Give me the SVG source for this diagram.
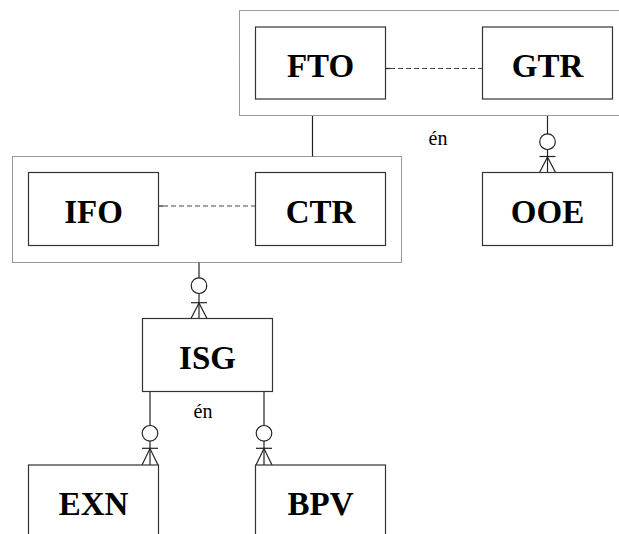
<svg xmlns="http://www.w3.org/2000/svg" width="619" height="534" viewBox="0 0 619 534">
<style>
.box{fill:#fff;stroke:#333;stroke-width:1.2}
.grp{fill:none;stroke:#333;stroke-width:1;stroke-dasharray:1 1}
.lbl{font-family:"Liberation Serif","Times New Roman",serif;font-weight:bold;font-size:33px;fill:#000;text-anchor:middle}
.rel{font-family:"Liberation Serif","Times New Roman",serif;font-size:20px;fill:#000;text-anchor:middle}
.ln{stroke:#222;stroke-width:1.2;fill:none}
.dash{stroke:#444;stroke-width:1.2;stroke-dasharray:5 3;fill:none}
.circ{fill:#fff;stroke:#222;stroke-width:1.2}
</style>
<rect id="group-top" class="grp" x="239.5" y="10.5" width="400" height="105"/>
<rect id="group-bottom" class="grp" x="12.5" y="156.5" width="389" height="106"/>
<g id="connectors">
  <line class="ln" x1="385.5" y1="68.5" x2="390" y2="68.5"/>
  <line class="dash" x1="390" y1="68.5" x2="482.5" y2="68.5"/>
  <line class="ln" x1="158.5" y1="206" x2="163" y2="206"/>
  <line class="dash" x1="163" y1="206" x2="255.5" y2="206"/>
  <line class="ln" x1="312.5" y1="116" x2="312.5" y2="156.5"/>
  <line class="ln" x1="547.5" y1="116" x2="547.5" y2="172.5"/>
  <circle class="circ" cx="547.5" cy="141.7" r="7.8"/>
  <line class="ln" x1="539.5" y1="156.5" x2="555.5" y2="156.5"/>
  <polyline class="ln" points="539.5,172.5 547.5,157 555.5,172.5"/>
  <line class="ln" x1="199" y1="262.5" x2="199" y2="318.5"/>
  <circle class="circ" cx="199" cy="285.7" r="7.8"/>
  <line class="ln" x1="191" y1="302.7" x2="207" y2="302.7"/>
  <polyline class="ln" points="191,318.5 199,303 207,318.5"/>
  <line class="ln" x1="150" y1="391.5" x2="150" y2="465"/>
  <circle class="circ" cx="150" cy="433.3" r="7.8"/>
  <line class="ln" x1="142" y1="448.3" x2="158" y2="448.3"/>
  <polyline class="ln" points="142,465 150,448.6 158,465"/>
  <line class="ln" x1="264" y1="391.5" x2="264" y2="465"/>
  <circle class="circ" cx="264" cy="433.3" r="7.8"/>
  <line class="ln" x1="256" y1="448.3" x2="272" y2="448.3"/>
  <polyline class="ln" points="256,465 264,448.6 272,465"/>
  <text class="rel" x="438" y="145">én</text>
  <text class="rel" x="203" y="418">én</text>
</g>
<g id="FTO"><rect class="box" x="255.5" y="27" width="130" height="72"/><text class="lbl" x="320.5" y="76.5">FTO</text></g>
<g id="GTR"><rect class="box" x="482.5" y="27" width="130" height="72"/><text class="lbl" x="547.5" y="76.5">GTR</text></g>
<g id="IFO"><rect class="box" x="28.5" y="172.5" width="130" height="73"/><text class="lbl" x="93.5" y="222.5">IFO</text></g>
<g id="CTR"><rect class="box" x="255.5" y="172.5" width="130" height="73"/><text class="lbl" x="320.5" y="222.5">CTR</text></g>
<g id="OOE"><rect class="box" x="482.5" y="172.5" width="130" height="73"/><text class="lbl" x="547.5" y="222.5">OOE</text></g>
<g id="ISG"><rect class="box" x="142.5" y="318.5" width="130" height="73"/><text class="lbl" x="207.5" y="368.5">ISG</text></g>
<g id="EXN"><rect class="box" x="28.5" y="465" width="130" height="80"/><text class="lbl" x="93.5" y="514.5">EXN</text></g>
<g id="BPV"><rect class="box" x="255.5" y="465" width="130" height="80"/><text class="lbl" x="320.5" y="514.5">BPV</text></g>
</svg>
